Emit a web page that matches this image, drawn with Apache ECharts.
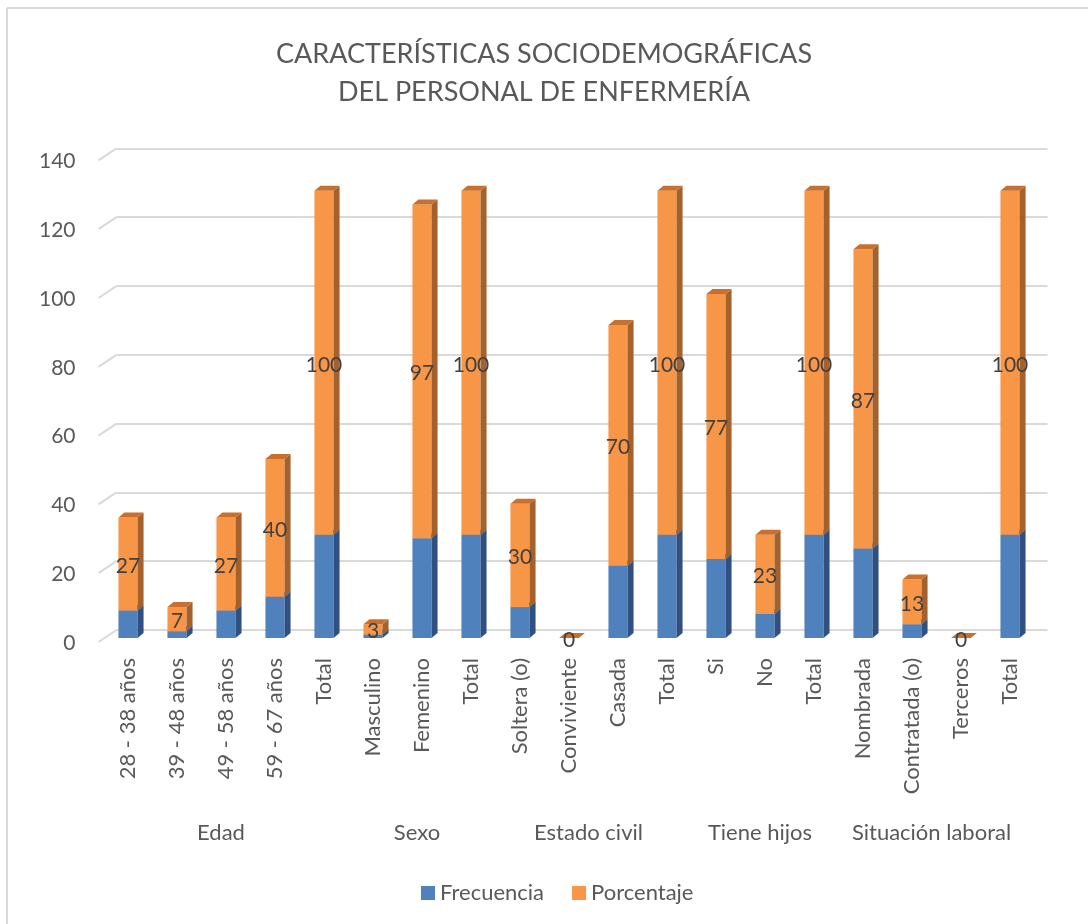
<!DOCTYPE html>
<html>
<head>
<meta charset="utf-8">
<script src="https://cdn.jsdelivr.net/npm/echarts@6/dist/echarts.min.js"></script>
<style>
html,body{margin:0;padding:0;background:#fff;}
#chart{width:1088px;height:924px;}
</style>
</head>
<body>
<div id="chart"></div>
<script>
const categories = ['28 - 38 años','39 - 48 años','49 - 58 años','59 - 67 años','Total',
  'Masculino','Femenino','Total',
  'Soltera (o)','Conviviente','Casada','Total',
  'Si','No','Total',
  'Nombrada','Contratada (o)','Terceros','Total'];
const frecuencia = [8,2,8,12,30, 1,29,30, 9,0,21,30, 23,7,30, 26,4,0,30];
const porcentaje = [27,7,27,40,100, 3,97,100, 30,0,70,100, 77,23,100, 87,13,0,100];
const groupNames = ['Edad','Sexo','Estado civil','Tiene hijos','Situación laboral'];
const groupStart = [0,5,8,12,15];
const groupEnd = [4,7,11,14,18];
const yTicks = [0,20,40,60,80,100,120,140];

const FONT = 'Lato, "Open Sans", sans-serif';
const TXT = '#595959';
const DX = 6, DY = 5;

function makeBar(front, side, top, withLabel) {
  return function (params, api) {
    const i = api.value(0), lo = api.value(1), hi = api.value(2);
    const pLo = api.coord([i, lo]);
    const pHi = api.coord([i, hi]);
    const bw = api.size([1, 0])[0] * 0.39;
    const x0 = pLo[0] - bw / 2, x1 = x0 + bw;
    const yT = pHi[1], yB = pLo[1];
    const children = [
      {type:'rect', shape:{x:x0, y:yT, width:bw, height:yB - yT}, style:{fill:front}},
      {type:'polygon', shape:{points:[[x1,yT],[x1+DX,yT-DY],[x1+DX,yB-DY],[x1,yB]]}, style:{fill:side}},
      {type:'polygon', shape:{points:[[x0,yT],[x0+DX,yT-DY],[x1+DX,yT-DY],[x1,yT]]}, style:{fill:top}}
    ];
    if (withLabel) {
      children.push({type:'text', z2:10, style:{
        text: String(api.value(3)), x: pLo[0], y: (yT + yB) / 2 + 2,
        align:'center', verticalAlign:'middle', fontSize:21, fontFamily:FONT, fill:'#404040'}});
    }
    return {type:'group', children};
  };
}

const chart = echarts.init(document.getElementById('chart'));
chart.setOption({
  backgroundColor:'#fff',
  animation:false,
  title:{
    text:'CARACTERÍSTICAS SOCIODEMOGRÁFICAS\nDEL PERSONAL DE ENFERMERÍA',
    left:'center', top:30,
    textStyle:{fontSize:27, lineHeight:38, fontWeight:'normal', color:TXT, fontFamily:FONT}
  },
  legend:{
    data:['Frecuencia','Porcentaje'],
    left:416, top:877, icon:'rect', itemWidth:14, itemHeight:14, itemGap:28,
    textStyle:{fontSize:22, color:TXT, fontFamily:FONT}
  },
  graphic:[
    {type:'line', shape:{x1:7, y1:8, x2:1088, y2:8}, style:{stroke:'#d9d9d9', lineWidth:2}, silent:true},
    {type:'line', shape:{x1:7, y1:8, x2:7, y2:924}, style:{stroke:'#d9d9d9', lineWidth:2}, silent:true}
  ],
  grid:[
    {left:103.5, right:53.5, top:156.4, bottom:286},
    {left:116.5, right:40.5, top:148.4, bottom:294}
  ],
  xAxis:[
    {type:'category', gridIndex:0, data:categories,
     axisLine:{show:false}, axisTick:{show:false},
     axisLabel:{rotate:90, interval:0, margin:20, fontSize:22, color:TXT, fontFamily:FONT}},
    {type:'value', gridIndex:1, min:0, max:1, show:false}
  ],
  yAxis:[
    {type:'value', gridIndex:0, min:0, max:140, interval:20, show:false},
    {type:'value', gridIndex:1, min:0, max:140, interval:20,
     axisLabel:{show:false}, axisLine:{show:false}, axisTick:{show:false},
     splitLine:{show:true, lineStyle:{color:'#d9d9d9', width:2}}}
  ],
  series:[
    {
      name:'stubs', type:'custom', xAxisIndex:1, yAxisIndex:1, silent:true,
      data: yTicks.map(v => [0, v]),
      encode:{x:0, y:1},
      renderItem:function(params, api){
        const p = api.coord([0, api.value(1)]);
        return {type:'group', children:[
          {type:'line', shape:{x1:p[0]-18, y1:p[1]+12, x2:p[0], y2:p[1]},
           style:{stroke:'#d9d9d9', lineWidth:2}},
          {type:'text', style:{text:String(api.value(1)), x:p[0]-41, y:p[1]+13,
           align:'right', verticalAlign:'middle', fontSize:21, fontFamily:FONT, fill:TXT}}
        ]};
      }
    },
    {
      name:'Frecuencia', type:'custom', xAxisIndex:0, yAxisIndex:0,
      itemStyle:{color:'#4f81bd'},
      data: categories.map((c, i) => [i, 0, frecuencia[i]]),
      encode:{x:0, y:[1,2]},
      renderItem: makeBar('#4f81bd', '#2f5080', '#3b659a', false)
    },
    {
      name:'Porcentaje', type:'custom', xAxisIndex:0, yAxisIndex:0,
      itemStyle:{color:'#f79646'},
      data: categories.map((c, i) => [i, frecuencia[i], frecuencia[i] + porcentaje[i], porcentaje[i]]),
      encode:{x:0, y:[1,2]},
      renderItem: makeBar('#f79646', '#a4612c', '#c8702e', true)
    },
    {
      name:'groups', type:'custom', xAxisIndex:0, yAxisIndex:0, silent:true,
      data: groupNames.map((g, k) => [groupStart[k], groupEnd[k]]),
      encode:{x:[0,1]},
      renderItem:function(params, api){
        const a = api.coord([api.value(0), 0]);
        const b = api.coord([api.value(1), 0]);
        return {type:'text', style:{text:groupNames[params.dataIndex],
          x:(a[0]+b[0])/2 - 5, y:a[1] + 195, align:'center', verticalAlign:'middle',
          fontSize:22, fontFamily:FONT, fill:TXT}};
      }
    }
  ]
});
</script>
</body>
</html>
